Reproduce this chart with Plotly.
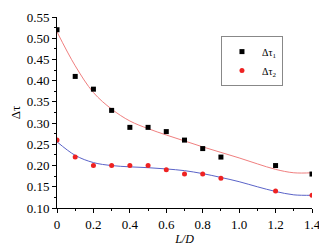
import plotly.graph_objects as go

x_pts = [0, 0.1, 0.2, 0.3, 0.4, 0.5, 0.6, 0.7, 0.8, 0.9, 1.2, 1.4]
tau1 = [0.52, 0.41, 0.38, 0.33, 0.29, 0.29, 0.28, 0.26, 0.24, 0.22, 0.20, 0.18]
tau2 = [0.26, 0.22, 0.20, 0.20, 0.20, 0.20, 0.19, 0.18, 0.18, 0.17, 0.14, 0.13]

x_fit = [0, 0.1, 0.2, 0.3, 0.4, 0.5, 0.6, 0.7, 0.8, 0.9, 1.0, 1.1, 1.2, 1.3, 1.4]
fit1 = [0.515, 0.435, 0.372, 0.333, 0.305, 0.287, 0.272, 0.258, 0.244, 0.231, 0.218, 0.204, 0.191, 0.183, 0.183]
fit2 = [0.256, 0.224, 0.207, 0.200, 0.197, 0.195, 0.192, 0.188, 0.181, 0.172, 0.162, 0.150, 0.139, 0.131, 0.130]

fig = go.Figure()
fig.add_trace(go.Scatter(x=x_fit, y=fit1, mode="lines", line=dict(color="#f07f7f", width=1, shape="spline"),
                         showlegend=False))
fig.add_trace(go.Scatter(x=x_fit, y=fit2, mode="lines", line=dict(color="#5a63c8", width=1, shape="spline"),
                         showlegend=False))
fig.add_trace(go.Scatter(x=x_pts, y=tau1, mode="markers", name="Δτ<sub>1</sub>",
                         marker=dict(symbol="square", size=5, color="black")))
fig.add_trace(go.Scatter(x=x_pts, y=tau2, mode="markers", name="Δτ<sub>2</sub>",
                         marker=dict(symbol="circle", size=5, color="#ee2222")))

font = dict(family="Liberation Serif", size=13, color="black")
# page body has an 8px margin, so the figure is sized/offset to compensate
fig.update_layout(
    width=319, height=241,
    margin=dict(l=49, r=15, t=9, b=41),
    paper_bgcolor="white", plot_bgcolor="white",
    font=font,
    legend=dict(x=0.643, y=0.9, xanchor="left", yanchor="top", bordercolor="#888888", borderwidth=1,
                bgcolor="white", font=dict(size=10), tracegroupgap=0, itemwidth=30),
    xaxis=dict(range=[0, 1.4], tickvals=[0, 0.2, 0.4, 0.6, 0.8, 1.0, 1.2, 1.4],
               ticktext=["0", "0.2", "0.4", "0.6", "0.8", "1.0", "1.2", "1.4"],
               automargin=False,
               showgrid=False, zeroline=False, showline=True, linecolor="black", linewidth=1,
               ticks="outside", ticklen=4, tickcolor="black",
               minor=dict(dtick=0.1, ticks="outside", ticklen=2, tickcolor="black"),
               title=dict(text="<i>L/D</i>", standoff=4, font=dict(size=12))),
    yaxis=dict(range=[0.10, 0.55], dtick=0.05, tickformat=".2f",
               automargin=False,
               showgrid=False, zeroline=False, showline=True, linecolor="black", linewidth=1,
               ticks="outside", ticklen=4, tickcolor="black",
               minor=dict(dtick=0.025, ticks="outside", ticklen=2, tickcolor="black"),
               title=dict(text="Δτ", standoff=10, font=dict(size=13))),
)
fig.write_html("out.html")
